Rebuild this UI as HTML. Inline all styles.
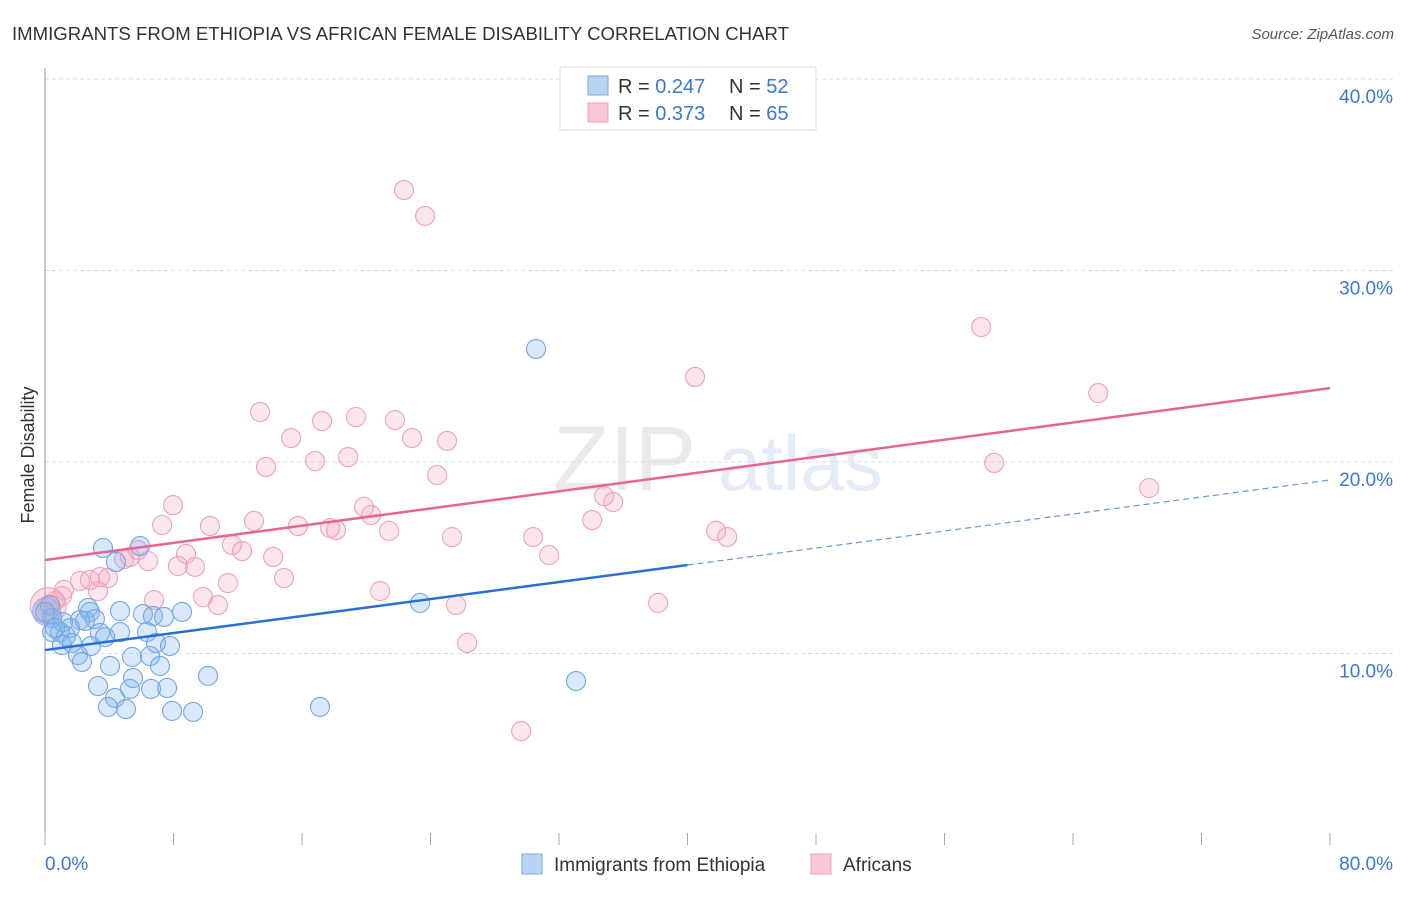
<!DOCTYPE html>
<html><head><meta charset="utf-8"><style>
body{margin:0;background:#fff;font-family:"Liberation Sans",sans-serif}
svg text{font-family:"Liberation Sans",sans-serif}
</style></head><body>
<svg id="chart" width="1406" height="892" viewBox="0 0 1406 892">
<text x="12" y="40" font-size="18.6" fill="#333">IMMIGRANTS FROM ETHIOPIA VS AFRICAN FEMALE DISABILITY CORRELATION CHART</text>
<text x="1394" y="39" font-size="15" fill="#555" font-style="italic" text-anchor="end">Source: ZipAtlas.com</text>
<g><text x="553" y="490" font-size="92" fill="#e2e2e2" font-family="Liberation Serif" opacity="0.7">ZIP</text><text x="718" y="490" font-size="78" fill="#d2e0f2" opacity="0.6">atlas</text></g>
<g id="grid"></g>
<g id="axes"></g>
<g id="marks"></g>
<text transform="translate(34,455) rotate(-90)" font-size="18" fill="#333" text-anchor="middle">Female Disability</text>
<g>
<rect x="560" y="67" width="256" height="63" fill="#fff" stroke="#ddd"/>
<rect x="588" y="76" width="20" height="19" fill="#b8d4f5" stroke="#7aaae4"/>
<text x="618" y="93" font-size="20" fill="#333">R = <tspan fill="#3a78d0">0.247</tspan></text>
<text x="729" y="93" font-size="20" fill="#333">N = <tspan fill="#3a78d0">52</tspan></text>
<rect x="588" y="103" width="20" height="19" fill="#f9c7d6" stroke="#eea0b8"/>
<text x="618" y="120" font-size="20" fill="#333">R = <tspan fill="#3a78d0">0.373</tspan></text>
<text x="729" y="120" font-size="20" fill="#333">N = <tspan fill="#3a78d0">65</tspan></text>
</g>
<g>
<rect x="522" y="854" width="20" height="20" fill="#b8d4f5" stroke="#7aaae4"/>
<text x="554" y="871" font-size="19" fill="#333">Immigrants from Ethiopia</text>
<rect x="811" y="854" width="20" height="20" fill="#f9c7d6" stroke="#eea0b8"/>
<text x="843" y="871" font-size="19" fill="#333">Africans</text>
</g>
</svg>
<script>
const yTicks=[10,20,30,40];
const yTickLabels=["10.0%","20.0%","30.0%","40.0%"];
const xTickLabels=["0.0%","80.0%"];
const blueX=[3.61,5.92,4.42,0.31,0.44,2.68,2.80,4.67,6.10,6.72,7.41,8.53,1.12,2.18,2.49,3.11,1.56,0.93,0.44,1.31,3.42,4.67,6.35,1.06,1.68,2.86,3.74,6.91,7.78,2.05,2.30,4.05,5.42,6.54,7.16,3.30,5.48,10.15,4.36,5.29,6.60,7.60,3.92,5.04,7.91,9.22,17.12,23.35,30.57,33.06,0,0.62];
const blueY=[15.51,15.61,14.78,12.53,11.85,12.38,12.17,12.22,12.06,11.96,11.91,12.17,11.64,11.75,11.70,11.80,11.33,11.12,11.12,10.91,11.07,11.12,11.12,10.44,10.55,10.39,10.86,10.55,10.39,9.92,9.56,9.35,9.82,9.87,9.35,8.30,8.72,8.83,7.68,8.15,8.15,8.20,7.21,7.10,7.00,6.95,7.21,12.64,25.90,8.56,12.17,11.33];
const pinkX=[22.35,23.66,58.28,40.47,65.57,13.39,19.36,17.25,21.79,15.32,22.85,25.03,13.76,16.81,18.87,59.09,24.41,68.74,34.81,35.37,7.97,19.86,20.30,13.01,7.29,10.27,15.75,17.75,18.12,21.42,34.06,41.78,42.47,25.34,30.39,11.64,12.27,8.78,31.38,5.79,4.92,5.29,6.41,14.20,8.28,9.34,3.92,2.80,3.42,2.18,1.18,3.30,14.88,11.39,20.86,6.79,9.84,10.77,1.06,0.62,0.12,25.59,38.17,26.28,29.64];
const pinkY=[34.20,32.85,27.05,24.44,23.60,22.61,22.35,22.14,22.19,21.25,21.25,21.10,19.74,20.05,20.26,19.95,19.32,18.64,18.22,17.91,17.75,17.65,17.23,16.92,16.71,16.66,16.66,16.55,16.45,16.40,16.97,16.40,16.08,16.08,16.08,15.67,15.35,15.20,15.14,15.40,14.93,15.04,14.83,15.04,14.57,14.52,13.94,13.84,13.99,13.79,13.32,13.26,13.94,13.68,13.26,12.79,12.95,12.53,13.00,12.74,12.48,12.53,12.64,10.55,5.95];
const blueTrend=[10.18,19.06];
const pinkTrend=[14.88,23.86];
const X0=45,X1=1330,Y0=845,PPY=19.15;
const xs=v=>X0+v*(X1-X0)/80;
const ys=v=>Y0-v*PPY;
const NS="http://www.w3.org/2000/svg";
function mk(t,a,p){const e=document.createElementNS(NS,t);for(const k in a)e.setAttribute(k,a[k]);p.appendChild(e);return e;}
const grid=document.getElementById('grid'),axes=document.getElementById('axes'),marks=document.getElementById('marks');
yTicks.forEach((t,i)=>{
 const l=mk('line',{x1:X0,x2:1394,y1:ys(t),y2:ys(t),stroke:'#ddd','stroke-dasharray':'4,3'},grid);
 
 
 const tx=mk('text',{x:1393,y:ys(t)+24,'font-size':19,fill:'#3a78d0','text-anchor':'end'},axes);
 tx.textContent=yTickLabels[i];
 
 
});
const al=mk('line',{x1:X0,x2:X0,y1:68,y2:Y0,stroke:'#999'},axes);


for(let i=0;i<=10;i++){
 const tk=mk('line',{x1:xs(i*8),x2:xs(i*8),y1:Y0-12,y2:Y0,stroke:'#aaa'},axes);
 
 
}
const xl0=mk('text',{x:45,y:870,'font-size':19,fill:'#3a78d0'},axes);xl0.textContent=xTickLabels[0];


const xl1=mk('text',{x:1393,y:870,'font-size':19,fill:'#3a78d0','text-anchor':'end'},axes);xl1.textContent=xTickLabels[1];


function dots(X,Y,fill,stroke,name){X.forEach((x,i)=>{
 const c=mk('circle',{cx:xs(x),cy:ys(Y[i]),r:9.5,fill:fill,stroke:stroke,'stroke-width':1.1},marks);
 
 
});}
const big1=mk('circle',{cx:xs(0.2),cy:ys(12.5),r:18,fill:'rgba(240,150,180,0.3)',stroke:'#eea0b8'},marks);


const big2=mk('circle',{cx:xs(0.1),cy:ys(12.2),r:14,fill:'rgba(110,150,220,0.3)',stroke:'#8ab4e8'},marks);


dots(pinkX,pinkY,'rgba(244,165,192,0.28)','#eea0b8','africans-point');
dots(blueX,blueY,'rgba(130,178,238,0.3)','#74a6e2','ethiopia-point');
const tb=v=>blueTrend[0]+(blueTrend[1]-blueTrend[0])*v/80;
const tp=v=>pinkTrend[0]+(pinkTrend[1]-pinkTrend[0])*v/80;
const pl=mk('line',{x1:xs(0),y1:ys(tp(0)),x2:xs(80),y2:ys(tp(80)),stroke:'#e5678f','stroke-width':2.5},marks);


const bl=mk('line',{x1:xs(0),y1:ys(tb(0)),x2:xs(40),y2:ys(tb(40)),stroke:'#2a6fd6','stroke-width':2.5},marks);


const bd=mk('line',{x1:xs(40),y1:ys(tb(40)),x2:xs(80),y2:ys(tb(80)),stroke:'#5f98dc','stroke-width':1.2,'stroke-dasharray':'6,4'},marks);


</script>
</body></html>
